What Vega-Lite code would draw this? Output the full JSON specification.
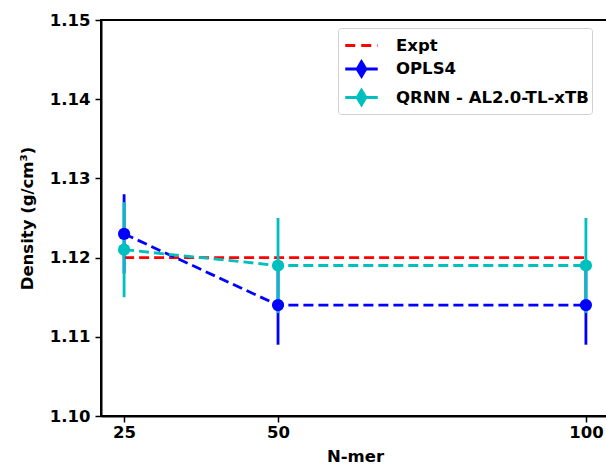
{
  "$schema": "https://vega.github.io/schema/vega-lite/v6.json",
  "autosize": {"type": "none"},
  "padding": {"left": 101, "top": 20, "right": 0, "bottom": 51},
  "width": 508,
  "height": 396,
  "background": "white",
  "config": {
    "font": "DejaVu Sans",
    "view": {"stroke": "black", "strokeWidth": 2},
    "axis": {
      "grid": false,
      "domainColor": "black",
      "domainWidth": 2,
      "tickColor": "black",
      "tickWidth": 1.5,
      "tickSize": 6,
      "labelFont": "DejaVu Sans",
      "labelFontWeight": "bold",
      "labelFontSize": 16.5,
      "labelColor": "black",
      "titleFont": "DejaVu Sans",
      "titleFontWeight": "bold",
      "titleFontSize": 16.5,
      "titleColor": "black"
    }
  },
  "data": {
    "values": [
      {"series": "Expt", "nmer": 25, "density": 1.12, "lo": null, "hi": null},
      {"series": "Expt", "nmer": 50, "density": 1.12, "lo": null, "hi": null},
      {"series": "Expt", "nmer": 100, "density": 1.12, "lo": null, "hi": null},
      {"series": "OPLS4", "nmer": 25, "density": 1.123, "lo": 1.118, "hi": 1.128},
      {"series": "OPLS4", "nmer": 50, "density": 1.114, "lo": 1.109, "hi": 1.119},
      {"series": "OPLS4", "nmer": 100, "density": 1.114, "lo": 1.109, "hi": 1.119},
      {"series": "QRNN - AL2.0-TL-xTB", "nmer": 25, "density": 1.121, "lo": 1.115, "hi": 1.127},
      {"series": "QRNN - AL2.0-TL-xTB", "nmer": 50, "density": 1.119, "lo": 1.113, "hi": 1.125},
      {"series": "QRNN - AL2.0-TL-xTB", "nmer": 100, "density": 1.119, "lo": 1.113, "hi": 1.125}
    ]
  },
  "encoding": {
    "x": {
      "field": "nmer", "type": "quantitative",
      "scale": {"domain": [21.25, 103.75], "nice": false, "zero": false},
      "axis": {"values": [25, 50, 100], "title": "N-mer", "labelPadding": 2, "titlePadding": 8}
    },
    "color": {
      "field": "series", "type": "nominal",
      "scale": {"domain": ["Expt", "OPLS4", "QRNN - AL2.0-TL-xTB"], "range": ["#ff0000", "#0000ff", "#00bfbf"]},
      "legend": {
        "title": null,
        "orient": "none",
        "legendX": 237,
        "legendY": 8,
        "labelFont": "DejaVu Sans",
        "labelFontWeight": "bold",
        "labelFontSize": 16.5,
        "labelColor": "black",
        "labelLimit": 400,
        "symbolSize": 676,
        "symbolStrokeWidth": 3,
        "symbolOffset": 6,
        "rowPadding": 0.5,
        "labelOffset": 20,
        "padding": 3,
        "strokeColor": "#d0d0d0",
        "fillColor": "white",
        "cornerRadius": 3,
        "symbolType": "M-1.25,0H1.25M-0.33,0L0,-0.55L0.33,0L0,0.55Z",
        "encode": {
          "symbols": {
            "update": {
              "strokeDash": {"signal": "datum.value === 'Expt' ? [10,6] : [1,0]"},
              "fill": {"signal": "datum.value === 'Expt' ? 'transparent' : scale('color', datum.value)"},
              "shape": {"signal": "datum.value === 'Expt' ? 'M-1.25,0H1.25' : 'M-1.25,0H1.25M-0.33,0L0,-0.55L0.33,0L0,0.55Z'"}
            }
          }
        }
      }
    }
  },
  "layer": [
    {
      "mark": {"type": "line", "strokeDash": [10, 5], "strokeWidth": 2.8},
      "encoding": {
        "y": {
          "field": "density", "type": "quantitative",
          "scale": {"domain": [1.10, 1.15], "nice": false, "zero": false},
          "axis": {"values": [1.10, 1.11, 1.12, 1.13, 1.14, 1.15], "format": ".2f", "title": "Density (g/cm³)", "labelPadding": 5, "titlePadding": 14}
        }
      }
    },
    {
      "transform": [{"filter": "datum.series !== 'Expt'"}],
      "mark": {"type": "rule", "strokeWidth": 2.8},
      "encoding": {
        "y": {"field": "lo", "type": "quantitative"},
        "y2": {"field": "hi"}
      }
    },
    {
      "transform": [{"filter": "datum.series !== 'Expt'"}],
      "mark": {"type": "point", "filled": true, "opacity": 1, "size": 150, "shape": "circle"},
      "encoding": {
        "y": {"field": "density", "type": "quantitative"}
      }
    }
  ]
}
